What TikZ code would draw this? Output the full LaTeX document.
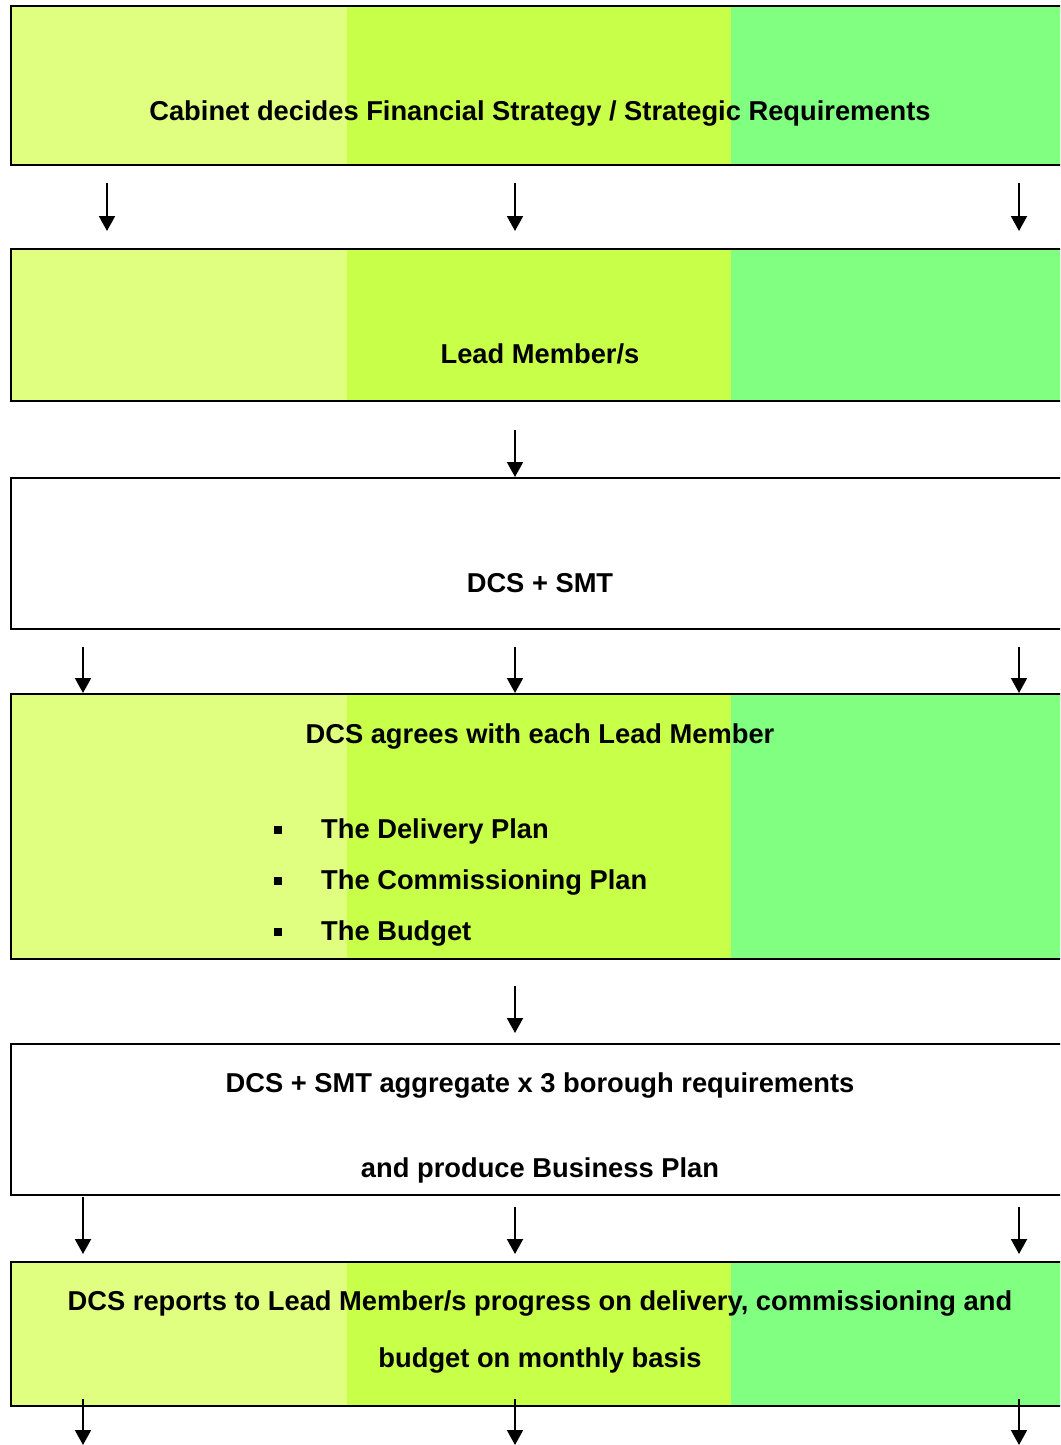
\documentclass[tikz,border=0pt]{standalone}
\usepackage{fontspec}
\setmainfont{Liberation Sans}
\usetikzlibrary{arrows.meta,calc}
\definecolor{bandA}{RGB}{224,255,128}
\definecolor{bandB}{RGB}{200,255,72}
\definecolor{bandC}{RGB}{128,255,128}
\newcommand\tribands[2]{%
  \fill[bandA] (11,#1) rectangle (347,#2);
  \fill[bandB] (347,#1) rectangle (731,#2);
  \fill[bandC] (731,#1) rectangle (1075,#2);}
\begin{document}
\begin{tikzpicture}[x=1pt,y=-1pt,
  box/.style={draw=black, line width=2pt, rectangle, inner sep=0pt, outer sep=0pt,
    minimum width=1059pt, anchor=north west},
  txt/.style={font=\bfseries\fontsize{27.3}{33}\selectfont, inner sep=0pt, anchor=base},
  bul/.style={fill=black, rectangle, minimum size=8pt, inner sep=0pt},
  arr/.style={line width=2pt, -{Triangle[length=15pt,width=16pt]}}]
\useasboundingbox (0,0) rectangle (1060,1445);
\clip (0,0) rectangle (1060,1445);
\fill[white] (0,0) rectangle (1060,1445);
% column coordinates
\coordinate (cA) at (107,0);
\coordinate (cL) at (83,0);
\coordinate (cM) at (515,0);
\coordinate (cR) at (1019,0);
% colour bands
\tribands{6}{165}
\tribands{249}{401}
\tribands{694}{959}
\tribands{1262}{1406}
% boxes
\node[box, minimum height=159pt] (b1) at (11,6) {};
\node[box, minimum height=152pt] (b2) at (11,249) {};
\node[box, minimum height=151pt] (b3) at (11,478) {};
\node[box, minimum height=265pt] (b4) at (11,694) {};
\node[box, minimum height=151pt] (b5) at (11,1044) {};
\node[box, minimum height=144pt] (b6) at (11,1262) {};
% texts
\node[txt] (t1) at (540,120) {Cabinet decides Financial Strategy / Strategic Requirements};
\node[txt] (t2) at (540,363) {Lead Member/s};
\node[txt] (t3) at (540,592) {DCS + SMT};
\node[txt] (t4) at (540,743) {DCS agrees with each Lead Member};
\node[bul] (q1) at (278,829.5) {};
\node[bul] (q2) at (278,880.5) {};
\node[bul] (q3) at (278,931.5) {};
\node[txt, anchor=base west] (l1) at (321,838) {The Delivery Plan};
\node[txt, anchor=base west] (l2) at (321,889) {The Commissioning Plan};
\node[txt, anchor=base west] (l3) at (321,940) {The Budget};
\node[txt] (t5a) at (540,1092) {DCS + SMT aggregate x 3 borough requirements};
\node[txt] (t5b) at (540,1177) {and produce Business Plan};
\node[txt] (t6a) at (540,1310) {DCS reports to Lead Member/s progress on delivery, commissioning and};
\node[txt] (t6b) at (540,1367) {budget on monthly basis};
% arrows
\draw[arr, shorten <=18pt, shorten >=18pt] (b1.south -| cA) -- (b2.north -| cA);
\draw[arr, shorten <=18pt, shorten >=18pt] (b1.south -| cM) -- (b2.north -| cM);
\draw[arr, shorten <=18pt, shorten >=18pt] (b1.south -| cR) -- (b2.north -| cR);
\draw[arr, shorten <=29pt, shorten >=1pt] (b2.south -| cM) -- (b3.north -| cM);
\draw[arr, shorten <=18pt, shorten >=1pt] (b3.south -| cL) -- (b4.north -| cL);
\draw[arr, shorten <=18pt, shorten >=1pt] (b3.south -| cM) -- (b4.north -| cM);
\draw[arr, shorten <=18pt, shorten >=1pt] (b3.south -| cR) -- (b4.north -| cR);
\draw[arr, shorten <=27pt, shorten >=11pt] (b4.south -| cM) -- (b5.north -| cM);
\draw[arr, shorten <=2pt, shorten >=8pt] (b5.south -| cL) -- (b6.north -| cL);
\draw[arr, shorten <=12pt, shorten >=8pt] (b5.south -| cM) -- (b6.north -| cM);
\draw[arr, shorten <=12pt, shorten >=8pt] (b5.south -| cR) -- (b6.north -| cR);
\coordinate (eL) at (83,1445);
\coordinate (eM) at (515,1445);
\coordinate (eR) at (1019,1445);
\draw[arr, shorten <=-7pt] (b6.south -| cL) -- (eL);
\draw[arr, shorten <=-7pt] (b6.south -| cM) -- (eM);
\draw[arr, shorten <=-7pt] (b6.south -| cR) -- (eR);
\end{tikzpicture}
\end{document}
